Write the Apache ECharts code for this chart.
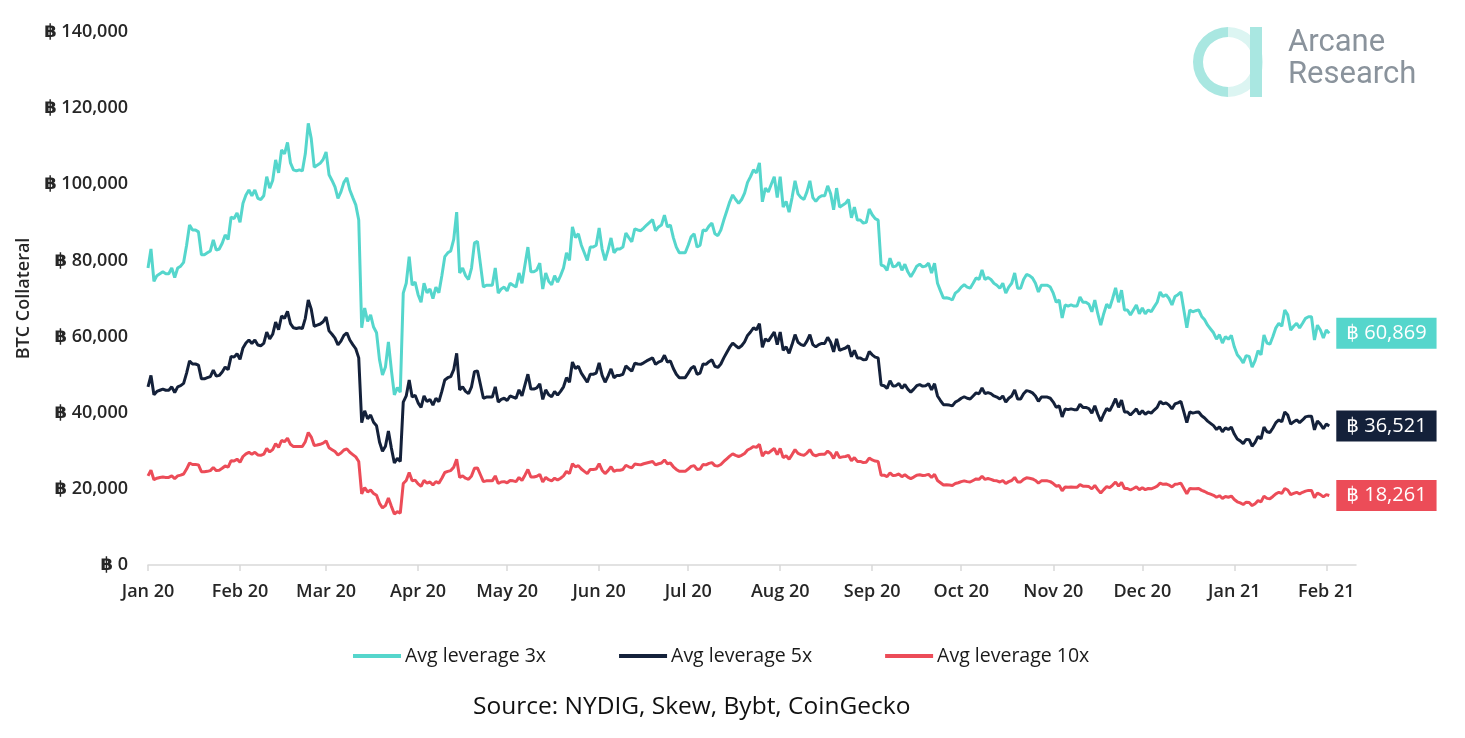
<!DOCTYPE html>
<html>
<head>
<meta charset="utf-8">
<script src="https://cdn.jsdelivr.net/npm/echarts@6/dist/echarts.min.js"></script>
<style>
html,body{margin:0;padding:0;background:#fff;}
#chart{width:1465px;height:738px;}
</style>
</head>
<body>
<div id="chart"></div>
<script>
// Daily data, day 0 = 2020-01-01, last point = 2021-02-03
const startDate = '2020-01-01';
const axisDays = 408;          // x axis runs to 2021-02-11
const seriesNames = ['Avg leverage 3x', 'Avg leverage 5x', 'Avg leverage 10x'];
const yTicks = [0, 20000, 40000, 60000, 80000, 100000, 120000, 140000];

const lev3 = [
78000,83000,74500,76000,76500,77000,76500,76500,78000,75500,
78000,78500,79500,84000,89300,88000,88000,87500,81500,81500,
82000,82500,85400,82700,83000,84500,86700,85500,91400,91000,
92500,90000,95000,97200,98500,97000,98500,96300,96000,97000,
102000,99000,101000,106400,103000,109000,108000,111000,105600,103800,
103500,103800,103500,108000,116000,112000,104500,105000,105500,106500,
108500,102500,101000,99300,96300,98000,100500,101700,98500,96500,
94600,90600,62300,67500,64000,65700,62500,61000,53900,49900,
52000,58600,51200,44700,46600,45400,71400,74000,81000,73500,
74300,71000,69000,74000,71500,72500,70000,73000,71500,76000,
81000,82000,82500,85500,92700,76700,78000,76000,75000,78000,
84600,85000,79000,73000,73500,73500,73500,78000,71400,72500,
73000,72000,74000,73500,73000,76700,74000,78800,83500,77000,
77000,77500,79300,72500,76700,74500,73600,76000,74300,76000,
78000,82000,80000,88800,86000,87000,84000,82000,80000,83500,
83500,84000,88500,83000,80000,82700,85900,82000,83000,83000,
83500,87200,86000,84900,88300,88000,87800,88500,89300,90000,
90700,87800,88800,89300,91900,88800,89300,86000,83500,82000,
82000,82000,84000,86200,87000,83500,84000,88000,87800,89000,
89800,87000,86500,88000,90600,93000,95400,97200,96000,95000,
96000,97700,100500,102000,103800,103000,105600,95400,99000,98000,
100000,102000,96500,102000,94000,95500,92700,96500,100900,97500,
96500,96000,98000,100900,96500,95500,96500,97000,97000,99600,
97500,93300,99000,94000,94500,95000,96000,91200,94000,90600,
90600,89800,90000,93500,92000,91000,90600,78800,78500,77400,
80600,78300,78500,79500,77400,79000,77000,75700,77000,78500,
79000,78300,78500,79300,76700,79300,74000,72000,70100,70200,
70000,69600,71400,72000,73000,73600,73000,72700,74000,75400,
75000,77500,75000,75500,75000,74000,73500,72700,74000,71400,
73000,74000,76700,72700,72700,75000,76300,76000,75400,74000,
71700,73500,73500,73500,73000,71400,69000,69600,64900,68300,
68000,68300,68000,68000,70400,69000,69000,68500,66500,69600,
66000,63000,66000,68500,67500,70000,72800,69000,72200,67000,
67000,65700,67000,68300,66000,67500,66000,67000,66500,67800,
69000,71700,70500,71000,70000,68300,70500,71000,71700,67000,
62300,67000,66500,66800,67000,65300,64400,63000,62000,61000,
59300,60500,58300,60000,59300,60300,57300,55200,54300,53100,
55000,54800,52000,53700,56300,55200,60400,58300,58000,60000,
62300,63500,62700,67000,65700,61700,62700,63500,62300,63500,
64800,65200,65200,59100,63000,61700,59600,61700,60869
];

const lev5 = [
46800,49800,44700,45600,45900,46200,45900,45900,46800,45300,
46800,47100,47700,50400,53600,52800,52800,52500,48900,48900,
49200,49500,51200,49600,49800,50700,52000,51300,54800,54600,
55500,54000,57000,58300,59100,58200,59100,57800,57600,58200,
61200,59400,60600,63800,61800,65400,64800,66600,63400,62300,
62100,62300,62100,64800,69600,67200,62700,63000,63300,63900,
65100,61500,60600,59600,57800,58800,60300,61000,59100,57900,
56800,54400,37400,40500,38400,39400,37500,36600,32300,29900,
31200,35200,30700,26800,28000,27200,42800,44400,48600,44100,
44600,42600,41400,44400,42900,43500,42000,43800,42900,45600,
48600,49200,49500,51300,55600,46000,46800,45600,45000,46800,
50800,51000,47400,43800,44100,44100,44100,46800,42800,43500,
43800,43200,44400,44100,43800,46000,44400,47300,50100,46200,
46200,46500,47600,43500,46000,44700,44200,45600,44600,45600,
46800,49200,48000,53300,51600,52200,50400,49200,48000,50100,
50100,50400,53100,49800,48000,49600,51500,49200,49800,49800,
50100,52300,51600,50900,53000,52800,52700,53100,53600,54000,
54400,52700,53300,53600,55100,53300,53600,51600,50100,49200,
49200,49200,50400,51700,52200,50100,50400,52800,52700,53400,
53900,52200,51900,52800,54400,55800,57200,58300,57600,57000,
57600,58600,60300,61200,62300,61800,63400,57200,59400,58800,
60000,61200,57900,61200,56400,57300,55600,57900,60500,58500,
57900,57600,58800,60500,57900,57300,57900,58200,58200,59800,
58500,56000,59400,56400,56700,57000,57600,54700,56400,54400,
54400,53900,54000,56100,55200,54600,54400,47300,47100,46400,
48400,47000,47100,47700,46400,47400,46200,45400,46200,47100,
47400,47000,47100,47600,46000,47600,44400,43200,42100,42100,
42000,41800,42800,43200,43800,44200,43800,43600,44400,45200,
45000,46500,45000,45300,45000,44400,44100,43600,44400,42800,
43800,44400,46000,43600,43600,45000,45800,45600,45200,44400,
43000,44100,44100,44100,43800,42800,41400,41800,38900,41000,
40800,41000,40800,40800,42200,41400,41400,41100,39900,41800,
39600,37800,39600,41100,40500,42000,43700,41400,43300,40200,
40200,39400,40200,41000,39600,40500,39600,40200,39900,40700,
41400,43000,42300,42600,42000,41000,42300,42600,43000,40200,
37400,40200,39900,40100,40200,39200,38600,37800,37200,36600,
35600,36300,35000,36000,35600,36200,34400,33100,32600,31900,
33000,32900,31200,32200,33800,33100,36200,35000,34800,36000,
37400,38100,37600,40200,39400,37000,37600,38100,37400,38100,
38900,39100,39100,35500,37800,37000,35800,37000,36521
];

const lev10 = [
23400,24900,22400,22800,23000,23100,23000,23000,23400,22700,
23400,23600,23900,25200,26800,26400,26400,26300,24500,24500,
24600,24800,25600,24800,24900,25400,26000,25700,27400,27300,
27800,27000,28500,29200,29600,29100,29600,28900,28800,29100,
30600,29700,30300,31900,30900,32700,32400,33300,31700,31100,
31100,31100,31100,32400,34800,33600,31400,31500,31700,32000,
32600,30800,30300,29800,28900,29400,30200,30500,29600,29000,
28400,27200,18700,20300,19200,19700,18800,18300,16200,15000,
15600,17600,15400,13400,14000,13600,21400,22200,24300,22100,
22300,21300,20700,22200,21500,21800,21000,21900,21500,22800,
24300,24600,24800,25700,27800,23000,23400,22800,22500,23400,
25400,25500,23700,21900,22100,22100,22100,23400,21400,21800,
21900,21600,22200,22100,21900,23000,22200,23600,25100,23100,
23100,23300,23800,21800,23000,22400,22100,22800,22300,22800,
23400,24600,24000,26600,25800,26100,25200,24600,24000,25100,
25100,25200,26600,24900,24000,24800,25800,24600,24900,24900,
25100,26200,25800,25500,26500,26400,26300,26600,26800,27000,
27200,26300,26600,26800,27600,26600,26800,25800,25100,24600,
24600,24600,25200,25900,26100,25100,25200,26400,26300,26700,
26900,26100,26000,26400,27200,27900,28600,29200,28800,28500,
28800,29300,30200,30600,31100,30900,31700,28600,29700,29400,
30000,30600,29000,30600,28200,28700,27800,29000,30300,29300,
29000,28800,29400,30300,29000,28700,29000,29100,29100,29900,
29300,28000,29700,28200,28400,28500,28800,27400,28200,27200,
27200,26900,27000,28100,27600,27300,27200,23600,23600,23200,
24200,23500,23600,23900,23200,23700,23100,22700,23100,23600,
23700,23500,23600,23800,23000,23800,22200,21600,21000,21100,
21000,20900,21400,21600,21900,22100,21900,21800,22200,22600,
22500,23300,22500,22700,22500,22200,22100,21800,22200,21400,
21900,22200,23000,21800,21800,22500,22900,22800,22600,22200,
21500,22100,22100,22100,21900,21400,20700,20900,19500,20500,
20400,20500,20400,20400,21100,20700,20700,20600,20000,20900,
19800,18900,19800,20600,20300,21000,21800,20700,21700,20100,
20100,19700,20100,20500,19800,20300,19800,20100,20000,20300,
20700,21500,21200,21300,21000,20500,21200,21300,21500,20100,
18700,20100,20000,20000,20100,19600,19300,18900,18600,18300,
17800,18200,17500,18000,17800,18100,17200,16600,16300,15900,
16500,16400,15600,16100,16900,16600,18100,17500,17400,18000,
18700,19100,18800,20100,19700,18500,18800,19100,18700,19100,
19400,19600,19600,17700,18900,18500,17900,18500,18261
];

const colors = ['#55D6CC', '#14213A', '#EC4C58'];
const monthNames = ['Jan','Feb','Mar','Apr','May','Jun','Jul','Aug','Sep','Oct','Nov','Dec'];

// Build day categories
const dates = [];
(function(){
  const p = startDate.split('-').map(Number);
  for (let i = 0; i < axisDays; i++) {
    const d = new Date(Date.UTC(p[0], p[1]-1, p[2] + i));
    dates.push(d.toISOString().slice(0, 10));
  }
})();
const isMonthStart = (idx, val) => String(val).slice(8, 10) === '01';
const fmtBTC = v => '\u0E3F ' + Number(v).toLocaleString('en-US');
const FONT = '"Open Sans", "DejaVu Sans", sans-serif';

const chart = echarts.init(document.getElementById('chart'), null, {renderer: 'canvas'});

function mkSeries(name, data, color) {
  return {
    name: name,
    type: 'line',
    data: data,
    symbol: 'none',
    showSymbol: false,
    lineStyle: {color: color, width: 3},
    itemStyle: {color: color},
    endLabel: {
      show: true,
      distance: 7,
      formatter: p => fmtBTC(p.value),
      color: '#fff',
      fontFamily: FONT,
      fontSize: 20,
      backgroundColor: color,
      padding: [6, 10, 5, 10]
    },
    emphasis: {disabled: true}
  };
}

chart.setOption({
  animation: false,
  color: colors,
  grid: {left: 148, right: 109, top: 32, bottom: 173, containLabel: false},
  legend: {
    data: seriesNames,
    left: 353,
    top: 646,
    padding: 0,
    icon: 'rect',
    itemWidth: 48,
    itemHeight: 4,
    itemGap: 73,
    textStyle: {fontFamily: FONT, fontSize: 19.5, color: '#1a1a1a', padding: [0, 0, 0, -1]}
  },
  xAxis: {
    type: 'category',
    data: dates,
    boundaryGap: false,
    axisLine: {show: true, lineStyle: {color: '#d9d9d9', width: 1.5}},
    axisTick: {show: true, interval: isMonthStart, length: 6, lineStyle: {color: '#d9d9d9', width: 1.5}},
    axisLabel: {
      interval: isMonthStart,
      margin: 18,
      fontFamily: FONT,
      fontSize: 18,
      fontWeight: 600,
      color: '#262626',
      formatter: v => monthNames[Number(v.slice(5, 7)) - 1] + ' ' + v.slice(2, 4)
    },
    splitLine: {show: false}
  },
  yAxis: {
    type: 'value',
    min: yTicks[0],
    max: yTicks[yTicks.length - 1],
    interval: yTicks[1] - yTicks[0],
    name: 'BTC Collateral',
    nameLocation: 'middle',
    nameRotate: 90,
    nameGap: 111,
    nameTextStyle: {fontFamily: FONT, fontSize: 18, fontWeight: 600, color: '#262626'},
    axisLine: {show: false},
    axisTick: {show: false},
    splitLine: {show: false},
    axisLabel: {
      margin: 20,
      fontFamily: FONT,
      fontSize: 18,
      fontWeight: 600,
      color: '#262626',
      formatter: v => fmtBTC(v)
    }
  },
  series: [
    mkSeries(seriesNames[0], lev3, colors[0]),
    mkSeries(seriesNames[1], lev5, colors[1]),
    mkSeries(seriesNames[2], lev10, colors[2])
  ],
  graphic: [
    {
      type: 'text',
      left: 473,
      top: 695,
      style: {text: 'Source: NYDIG, Skew, Bybt, CoinGecko', fontFamily: FONT, fontSize: 24.5, fill: '#111'}
    },
    {
      type: 'group',
      left: 1193,
      top: 27,
      children: [
        {type: 'sector', shape: {cx: 35, cy: 35, r: 35, r0: 25, startAngle: Math.PI / 2, endAngle: Math.PI * 1.5}, style: {fill: '#A9E7E1'}},
        {type: 'sector', shape: {cx: 35, cy: 35, r: 35, r0: 25, startAngle: -Math.PI / 2, endAngle: Math.PI / 2}, style: {fill: '#DCF5F2'}},
        {type: 'rect', shape: {x: 57, y: 0, width: 12, height: 70}, style: {fill: '#A9E7E1'}},
        {type: 'text', x: 95, y: 16.5, style: {text: 'Arcane', fontFamily: 'Roboto, sans-serif', fontSize: 31, fill: '#8A939C', verticalAlign: 'middle'}},
        {type: 'text', x: 95, y: 48.5, style: {text: 'Research', fontFamily: 'Roboto, sans-serif', fontSize: 31, fill: '#8A939C', verticalAlign: 'middle'}}
      ]
    }
  ]
});
</script>
</body>
</html>
